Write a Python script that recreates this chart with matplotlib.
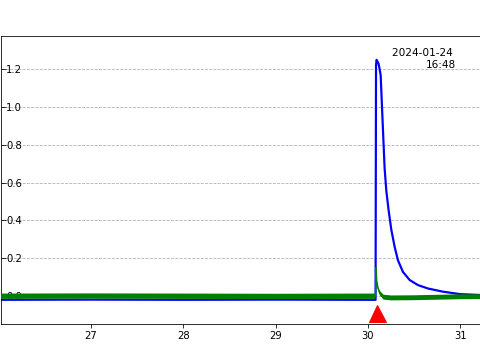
import matplotlib
matplotlib.use("Agg")
from matplotlib import pyplot as plt

# blue trace
blue_x = [26.0, 27.0, 28.0, 29.0, 30.0, 30.083, 30.088, 30.094, 30.105, 30.115,
          30.127, 30.138, 30.152, 30.167, 30.181, 30.199, 30.224, 30.254, 30.290,
          30.325, 30.379, 30.452, 30.542, 30.650, 30.813, 31.0, 31.25]
blue_y = [-0.020, -0.019, -0.020, -0.019, -0.020, -0.020, 1.22, 1.25, 1.24, 1.23,
          1.20, 1.17, 1.01, 0.836, 0.677, 0.56, 0.455, 0.35, 0.26,
          0.19, 0.128, 0.085, 0.058, 0.040, 0.023, 0.010, 0.005]

# green trace and its noise half-width
green_x = [26.0, 27.0, 28.0, 29.0, 30.0, 30.083, 30.088, 30.095, 30.11, 30.13,
           30.17, 30.25, 30.5, 30.8, 31.0, 31.25]
green_y = [-0.001, 0.000, -0.001, -0.002, -0.001, -0.001, 0.15, 0.08, 0.04, 0.015,
           -0.006, -0.010, -0.009, -0.006, -0.004, -0.003]
green_spread = [0.014, 0.014, 0.014, 0.014, 0.014, 0.014, 0.0, 0.004, 0.008, 0.012,
                0.013, 0.013, 0.013, 0.013, 0.013, 0.013]

event_x = 30.097
event_y = -0.09
stamp = "2024-01-24 \n16:48"

yticks = [0.0, 0.2, 0.4, 0.6, 0.8, 1.0, 1.2]
xticks = [27, 28, 29, 30, 31]

fig = plt.figure(figsize=(480 / 72, 360 / 72), dpi=72)

# axes placed in pixel terms so the ticks land where they do in the reference
px_per_day = 92.3
left_px, right_px = 0.8, 500
ax = fig.add_axes([left_px / 480, 0.1, (right_px - left_px) / 480, 0.8])
ax.set_xlim(27 + (left_px - 91) / px_per_day, 27 + (right_px - 91) / px_per_day)
ax.set_ylim(-0.148, 1.376)

ax.plot(blue_x, blue_y, color="blue", lw=2.2, zorder=2)

lo = [y - s for y, s in zip(green_y, green_spread)]
hi = [y + s for y, s in zip(green_y, green_spread)]
ax.fill_between(green_x, lo, hi, color="green", lw=0, zorder=3)
ax.plot(green_x, green_y, color="green", lw=1.5, zorder=3)

ax.plot([event_x], [event_y], marker="^", color="red", markersize=17,
        linestyle="none", zorder=4, clip_on=False)

ax.text(30.955, 1.31, stamp, ha="right", va="top", multialignment="right",
        fontsize=10.5)

ax.set_yticks(yticks)
ax.set_yticklabels([f"{v:.1f}" for v in yticks])
ax.set_xticks(xticks)
ax.yaxis.grid(True, linestyle="--", color="#b0b0b0", lw=0.8)
ax.set_axisbelow(True)

ax.tick_params(axis="y", direction="in", length=5, pad=-5.5)
for lab in ax.get_yticklabels():
    lab.set_horizontalalignment("left")
ax.spines["right"].set_visible(False)

fig.savefig("out.png", dpi=72)
